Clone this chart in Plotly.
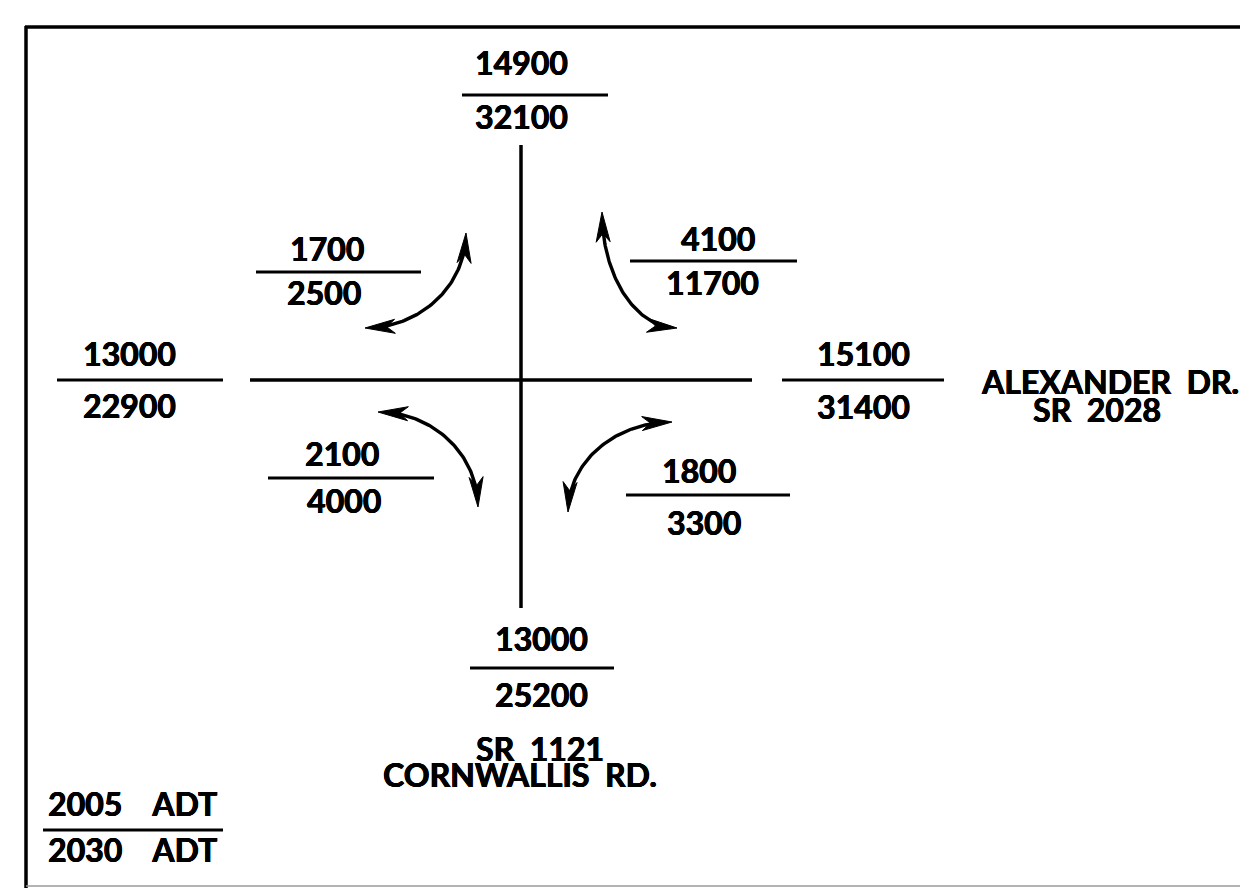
import numpy as np
import plotly.graph_objects as go

# ---- data ----
approach_names = ["north", "west", "east", "south"]
approach_2005 = [14900, 13000, 15100, 13000]
approach_2030 = [32100, 22900, 31400, 25200]

turn_names = ["nw", "ne", "sw", "se"]
turn_2005 = [1700, 4100, 2100, 1800]
turn_2030 = [2500, 11700, 4000, 3300]

legend_top = "2005    ADT"
legend_bottom = "2030    ADT"
street_east = ["ALEXANDER  DR.", "SR  2028"]
street_south = ["SR  1121", "CORNWALLIS  RD."]

# ---- layout geometry (page pixel space) ----
W, H = 1240, 888
FONT = dict(family="Lato, Liberation Sans, sans-serif", size=32, color="black", weight="bold",
            shadow="0.6px 0px 0px black, -0.3px 0px 0px black, 0px 0.4px 0px black")

approach_pos = {  # cx, top-y, line-y, bottom-y, line x0, line x1
    "north": (521, 62, 95, 116, 462, 608),
    "west": (129, 353, 380, 405, 57, 223),
    "east": (863, 353, 380, 406, 782, 944),
    "south": (541, 638, 668, 694, 470, 614),
}
turn_pos = {  # cx_top, y_top, line-y, cx_bottom, y_bottom, x0, x1
    "nw": (327, 248, 272, 324, 292, 256, 421),
    "ne": (718, 238, 261, 712, 282, 630, 797),
    "sw": (342, 453, 478, 344, 500, 268, 434),
    "se": (699, 470, 495, 704, 522, 626, 790),
}
arcs = {  # center x, center y, rx, ry, t0, t1 (degrees)
    "nw": (365, 233, 101, 95, 0, 90),
    "ne": (677, 212, 75, 116, 90, 180),
    "sw": (378, 507, 100, 95, -90, 0),
    "se": (672, 512, 104, 90, 180, 270),
}

fig = go.Figure()
shapes = []
annotations = []


def line(x0, y0, x1, y1, width=3, color="black"):
    shapes.append(dict(type="line", xref="x", yref="y", x0=x0, y0=y0, x1=x1, y1=y1,
                       line=dict(color=color, width=width)))


def text(x, y, s, anchor="center"):
    annotations.append(dict(x=x, y=y, xref="x", yref="y", text=s, showarrow=False,
                            xanchor=anchor, yanchor="middle", font=FONT,
                            borderpad=0))


# border
line(25, 27, W + 20, 27, width=3.5)
line(26, 26, 26, H + 20, width=3.5)
line(26, 886, W + 20, 886, width=1.5, color="#9a9a9a")

# roads
line(521, 145, 521, 608, width=3.5)
line(250, 380, 752, 380, width=3.5)

# approach volumes
for name, v05, v30 in zip(approach_names, approach_2005, approach_2030):
    cx, yt, yl, yb, x0, x1 = approach_pos[name]
    text(cx, yt, str(v05))
    line(x0, yl, x1, yl, width=3)
    text(cx, yb, str(v30))

# turning volumes
for name, v05, v30 in zip(turn_names, turn_2005, turn_2030):
    cxt, yt, yl, cxb, yb, x0, x1 = turn_pos[name]
    text(cxt, yt, str(v05))
    line(x0, yl, x1, yl, width=3)
    text(cxb, yb, str(v30))


def arrow_head(tip, d, length=30, half=7, notch=0.72):
    d = d / np.linalg.norm(d)
    n = np.array([-d[1], d[0]])
    base = tip - length * d
    nb = tip - length * notch * d
    p1 = base + half * n
    p2 = base - half * n
    return (f"M {tip[0]:.2f},{tip[1]:.2f} L {p1[0]:.2f},{p1[1]:.2f} "
            f"L {nb[0]:.2f},{nb[1]:.2f} L {p2[0]:.2f},{p2[1]:.2f} Z")


for name in turn_names:
    cx, cy, rx, ry, t0, t1 = arcs[name]
    t = np.radians(np.linspace(t0, t1, 80))
    xs = cx + rx * np.cos(t)
    ys = cy + ry * np.sin(t)
    fig.add_trace(go.Scatter(x=xs[4:-4], y=ys[4:-4], mode="lines",
                             line=dict(color="black", width=3.4), hoverinfo="skip",
                             showlegend=False))
    for tip, prev in ((np.array([xs[0], ys[0]]), np.array([xs[6], ys[6]])),
                      (np.array([xs[-1], ys[-1]]), np.array([xs[-7], ys[-7]]))):
        shapes.append(dict(type="path", xref="x", yref="y", path=arrow_head(tip, tip - prev),
                           fillcolor="black", line=dict(color="black", width=1)))

# street names
text(1110, 381, street_east[0])
text(1097, 409, street_east[1])
text(540, 748, street_south[0])
text(520, 774, street_south[1])

# legend
text(132, 803, legend_top)
line(43, 830, 223, 830, width=3)
text(132, 849, legend_bottom)

fig.update_layout(
    width=W, height=H,
    margin=dict(l=0, r=0, t=0, b=0),
    paper_bgcolor="white", plot_bgcolor="white",
    xaxis=dict(range=[0, W], visible=False, fixedrange=True),
    yaxis=dict(range=[H, 0], visible=False, fixedrange=True),
    shapes=shapes, annotations=annotations, showlegend=False,
)

fig.write_html(
    "out.html",
    config={"displayModeBar": False},
    post_script="document.body.style.margin='0';document.body.style.overflow='hidden';",
)
